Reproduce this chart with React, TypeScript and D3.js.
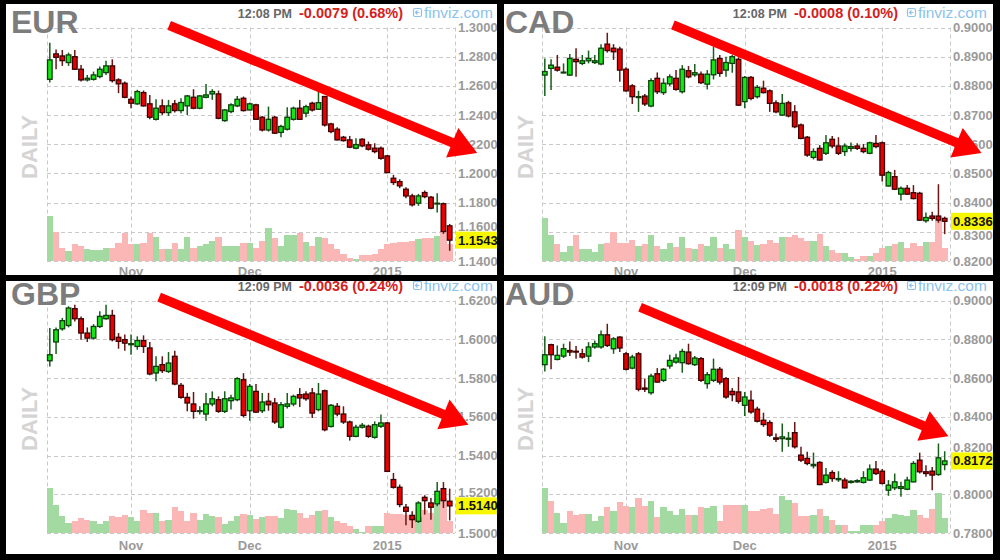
import React from "react";
import * as d3 from "d3";

type OHLC = [number, number, number, number]; // open, high, low, close

const EUR_OHLC: OHLC[] = [
  [1.2645, 1.2896, 1.2623, 1.2778], [1.2819, 1.285, 1.2714, 1.2796], [1.2805, 1.2846, 1.2737, 1.2773],
  [1.276, 1.2828, 1.2737, 1.2812], [1.28, 1.2846, 1.271, 1.2714], [1.2714, 1.2743, 1.263, 1.2641],
  [1.2641, 1.2675, 1.263, 1.2652], [1.2645, 1.2698, 1.2636, 1.2675], [1.2664, 1.2732, 1.2652, 1.2714],
  [1.2691, 1.2773, 1.2675, 1.2737], [1.2737, 1.2782, 1.2623, 1.2636], [1.2641, 1.2652, 1.255, 1.2614],
  [1.2618, 1.263, 1.2515, 1.2522], [1.2508, 1.2527, 1.2447, 1.2481], [1.2477, 1.2573, 1.247, 1.2561],
  [1.2554, 1.2568, 1.2458, 1.2463], [1.2477, 1.2538, 1.2371, 1.2385], [1.2371, 1.2508, 1.2362, 1.2447],
  [1.2463, 1.2508, 1.2401, 1.2417], [1.2417, 1.2504, 1.2394, 1.2463], [1.2477, 1.2504, 1.2417, 1.2431],
  [1.2431, 1.2515, 1.2413, 1.2486], [1.2463, 1.2538, 1.24, 1.2531], [1.2522, 1.2577, 1.244, 1.2447],
  [1.2447, 1.2538, 1.244, 1.2531], [1.2522, 1.2613, 1.2515, 1.2538], [1.2545, 1.2577, 1.2504, 1.2561],
  [1.2545, 1.2568, 1.2371, 1.2378], [1.2362, 1.244, 1.2355, 1.2435], [1.2424, 1.2481, 1.2413, 1.247],
  [1.2463, 1.2531, 1.2454, 1.2508], [1.2515, 1.2527, 1.2424, 1.2431], [1.2435, 1.2486, 1.2431, 1.2477],
  [1.247, 1.2477, 1.2367, 1.2371], [1.2385, 1.2394, 1.2287, 1.2298], [1.2298, 1.2458, 1.2287, 1.2371],
  [1.2385, 1.2394, 1.2271, 1.2276], [1.2281, 1.2333, 1.2248, 1.2322], [1.2303, 1.2453, 1.2294, 1.2385],
  [1.2371, 1.2458, 1.2362, 1.2447], [1.2447, 1.2504, 1.2367, 1.2371], [1.2413, 1.247, 1.2385, 1.2458],
  [1.2481, 1.2492, 1.2424, 1.2435], [1.244, 1.256, 1.2435, 1.2485], [1.2527, 1.2531, 1.2321, 1.2332],
  [1.2339, 1.2348, 1.2276, 1.2287], [1.2303, 1.2316, 1.2225, 1.223], [1.2248, 1.2257, 1.2218, 1.2225],
  [1.223, 1.2257, 1.2173, 1.218], [1.2173, 1.2241, 1.2166, 1.2198], [1.2234, 1.2241, 1.218, 1.2189],
  [1.2196, 1.2218, 1.2157, 1.2166], [1.2173, 1.2207, 1.2138, 1.215], [1.2173, 1.2184, 1.2093, 1.2104],
  [1.212, 1.2127, 1.2001, 1.2006], [1.1967, 1.199, 1.1921, 1.1938], [1.1944, 1.196, 1.1899, 1.1915],
  [1.1892, 1.1905, 1.183, 1.1846], [1.1846, 1.186, 1.1773, 1.1785], [1.1796, 1.186, 1.1778, 1.1846],
  [1.1869, 1.1883, 1.183, 1.1841], [1.1837, 1.1846, 1.1755, 1.1762], [1.1792, 1.1865, 1.1732, 1.1796],
  [1.1792, 1.1801, 1.1586, 1.1602], [1.1641, 1.1654, 1.147, 1.1543],
];
const EUR_VOLUME = [
  135, 87, 40, 30, 50, 45, 35, 32, 32, 40, 40, 55, 85, 50, 50, 55, 85, 72, 35, 35, 55, 35, 72, 40, 45, 52,
  60, 72, 45, 45, 45, 55, 55, 40, 60, 100, 68, 45, 78, 78, 85, 58, 45, 72, 68, 50, 35, 22, 10, 5, 18, 18,
  22, 35, 50, 55, 58, 58, 60, 65, 70, 70, 75, 90, 50,
];

const CAD_OHLC: OHLC[] = [
  [0.8837, 0.8894, 0.8765, 0.8849], [0.886, 0.8891, 0.8786, 0.8871], [0.8864, 0.8906, 0.8849, 0.8854],
  [0.8845, 0.8877, 0.8843, 0.8847], [0.8837, 0.8909, 0.8834, 0.8894], [0.8891, 0.8929, 0.8831, 0.8883],
  [0.8877, 0.8906, 0.8871, 0.8886], [0.8886, 0.8921, 0.8877, 0.8894], [0.888, 0.8906, 0.8875, 0.8886],
  [0.8875, 0.8943, 0.8871, 0.8929], [0.8943, 0.8982, 0.8914, 0.8921], [0.8929, 0.8943, 0.8889, 0.8917],
  [0.8926, 0.8934, 0.8814, 0.8854], [0.8857, 0.8864, 0.878, 0.8783], [0.88, 0.8806, 0.8738, 0.8763],
  [0.876, 0.8783, 0.8711, 0.8763], [0.8765, 0.8772, 0.8731, 0.8738], [0.8731, 0.8826, 0.8727, 0.8818],
  [0.8826, 0.8846, 0.8772, 0.878], [0.8777, 0.8826, 0.8769, 0.8809], [0.8807, 0.884, 0.88, 0.8831],
  [0.8826, 0.8854, 0.8783, 0.8788], [0.878, 0.8871, 0.8774, 0.8857], [0.8852, 0.8868, 0.8826, 0.8831],
  [0.8838, 0.8875, 0.8831, 0.8845], [0.884, 0.8849, 0.8806, 0.8811], [0.8806, 0.8854, 0.8788, 0.884],
  [0.8838, 0.8934, 0.8822, 0.8889], [0.8894, 0.8906, 0.8831, 0.8843], [0.8854, 0.89, 0.8831, 0.888],
  [0.8877, 0.8906, 0.8845, 0.89], [0.8891, 0.8898, 0.8731, 0.8734], [0.8746, 0.8834, 0.8723, 0.8829],
  [0.8829, 0.8834, 0.8751, 0.8757], [0.8763, 0.8803, 0.8757, 0.8795], [0.8792, 0.8818, 0.8774, 0.8777],
  [0.8783, 0.8788, 0.8711, 0.874], [0.8742, 0.8751, 0.8706, 0.8711], [0.87, 0.8772, 0.8697, 0.874],
  [0.8742, 0.8749, 0.8692, 0.8697], [0.8711, 0.8734, 0.8655, 0.866], [0.8666, 0.8671, 0.8617, 0.862],
  [0.8624, 0.8628, 0.8557, 0.8563], [0.8555, 0.8586, 0.8548, 0.8575], [0.8586, 0.8597, 0.8544, 0.8546],
  [0.8569, 0.8632, 0.8563, 0.8605], [0.8617, 0.8628, 0.8586, 0.8594], [0.8594, 0.8624, 0.8563, 0.8569],
  [0.8575, 0.8603, 0.856, 0.8594], [0.8586, 0.8606, 0.8575, 0.8592], [0.8594, 0.8603, 0.858, 0.8586],
  [0.8586, 0.8601, 0.8569, 0.8575], [0.8569, 0.8609, 0.8566, 0.8605], [0.8603, 0.8632, 0.8586, 0.8592],
  [0.8605, 0.8609, 0.8472, 0.8494], [0.8457, 0.8509, 0.8455, 0.8503], [0.8489, 0.8512, 0.8443, 0.8446],
  [0.8429, 0.8455, 0.8407, 0.8449], [0.8449, 0.846, 0.8426, 0.8429], [0.8434, 0.846, 0.8411, 0.8414],
  [0.8432, 0.8437, 0.8338, 0.834], [0.8338, 0.8366, 0.8331, 0.8349], [0.8354, 0.8369, 0.8338, 0.8346],
  [0.8354, 0.8463, 0.8331, 0.834], [0.8346, 0.8352, 0.8292, 0.8336],
];
const CAD_VOLUME = [
  130, 78, 50, 28, 45, 78, 35, 35, 28, 50, 55, 87, 55, 55, 64, 45, 50, 78, 45, 35, 55, 42, 72, 40, 35, 50,
  45, 72, 40, 50, 35, 92, 72, 60, 48, 50, 62, 55, 72, 72, 78, 68, 60, 60, 82, 45, 32, 25, 25, 12, 5, 15,
  15, 25, 40, 45, 50, 58, 40, 55, 45, 58, 58, 120, 40,
];

const GBP_OHLC: OHLC[] = [
  [1.5889, 1.6058, 1.586, 1.592], [1.5986, 1.6061, 1.5924, 1.6049], [1.6054, 1.611, 1.6044, 1.6096],
  [1.6071, 1.617, 1.6061, 1.6161], [1.6158, 1.6178, 1.6092, 1.6106], [1.6106, 1.6118, 1.5998, 1.6032],
  [1.6032, 1.6061, 1.5986, 1.6006], [1.6006, 1.6078, 1.5998, 1.6066], [1.6066, 1.6144, 1.6058, 1.6118],
  [1.6106, 1.6178, 1.6101, 1.6123], [1.6123, 1.6152, 1.5989, 1.5998], [1.601, 1.6032, 1.5951, 1.5989],
  [1.5998, 1.6024, 1.5941, 1.598], [1.5972, 1.6024, 1.592, 1.5977], [1.5963, 1.6015, 1.5946, 1.5993],
  [1.5993, 1.602, 1.5929, 1.5963], [1.5955, 1.5986, 1.5814, 1.5821], [1.5826, 1.5912, 1.5783, 1.586],
  [1.5869, 1.5912, 1.5826, 1.5838], [1.5834, 1.5934, 1.5826, 1.5877], [1.5912, 1.5941, 1.5762, 1.5769],
  [1.5762, 1.5774, 1.5693, 1.57], [1.57, 1.5723, 1.5628, 1.5671], [1.5666, 1.5728, 1.559, 1.5628],
  [1.5628, 1.5654, 1.5611, 1.5631], [1.5614, 1.5723, 1.558, 1.5666], [1.5666, 1.5731, 1.5654, 1.5693],
  [1.5688, 1.5705, 1.562, 1.5628], [1.5628, 1.5731, 1.562, 1.5693], [1.5683, 1.5714, 1.5637, 1.5697],
  [1.5688, 1.5804, 1.568, 1.5797], [1.5791, 1.5825, 1.5597, 1.5607], [1.5631, 1.5769, 1.558, 1.5757],
  [1.5731, 1.5769, 1.5619, 1.5624], [1.5631, 1.5723, 1.5619, 1.5676], [1.568, 1.5723, 1.5631, 1.5662],
  [1.5671, 1.5697, 1.5563, 1.5573], [1.5546, 1.5676, 1.5539, 1.5662], [1.5654, 1.5723, 1.5642, 1.5666],
  [1.5666, 1.5714, 1.5654, 1.5705], [1.5714, 1.5748, 1.565, 1.5697], [1.5717, 1.5731, 1.5683, 1.5693],
  [1.5723, 1.5748, 1.5594, 1.5619], [1.5637, 1.5774, 1.5628, 1.5717], [1.5734, 1.574, 1.5525, 1.5533],
  [1.555, 1.5666, 1.5545, 1.5659], [1.5654, 1.5671, 1.5602, 1.5614], [1.5614, 1.5654, 1.5563, 1.5573],
  [1.5573, 1.558, 1.5477, 1.5499], [1.5499, 1.5559, 1.5494, 1.5546], [1.5546, 1.5568, 1.5539, 1.5556],
  [1.5551, 1.5559, 1.5491, 1.5499], [1.5494, 1.5576, 1.5487, 1.5559], [1.5551, 1.5611, 1.5542, 1.5568],
  [1.5568, 1.5573, 1.5315, 1.5318], [1.5276, 1.531, 1.5229, 1.5236], [1.5236, 1.525, 1.5133, 1.5147],
  [1.5133, 1.515, 1.504, 1.5112], [1.5091, 1.5112, 1.5026, 1.5069], [1.506, 1.5164, 1.5052, 1.5155],
  [1.5184, 1.5195, 1.5095, 1.5167], [1.5155, 1.5181, 1.5069, 1.5133], [1.515, 1.5263, 1.5138, 1.5215],
  [1.5229, 1.5263, 1.5129, 1.5167], [1.5164, 1.5229, 1.5065, 1.514],
];
const GBP_VOLUME = [
  135, 83, 50, 30, 37, 45, 40, 35, 27, 35, 50, 47, 53, 47, 37, 70, 60, 60, 37, 40, 77, 65, 35, 60, 40, 57,
  50, 47, 27, 35, 50, 57, 53, 43, 47, 50, 50, 45, 73, 70, 60, 45, 55, 65, 68, 47, 35, 30, 20, 13, 3, 20,
  20, 20, 60, 57, 57, 53, 53, 47, 70, 60, 85, 105, 37,
];

const AUD_OHLC: OHLC[] = [
  [0.8669, 0.8816, 0.8634, 0.872], [0.8772, 0.8777, 0.8645, 0.872], [0.8696, 0.8768, 0.8691, 0.8717],
  [0.8713, 0.8777, 0.8703, 0.8751], [0.8742, 0.8789, 0.8713, 0.8734], [0.8738, 0.8765, 0.87, 0.8734],
  [0.8725, 0.8751, 0.87, 0.8708], [0.8713, 0.8785, 0.8682, 0.876], [0.876, 0.8794, 0.8751, 0.8777],
  [0.876, 0.8845, 0.8751, 0.8823], [0.8823, 0.888, 0.876, 0.8768], [0.8751, 0.8811, 0.8725, 0.8802],
  [0.8811, 0.8816, 0.8734, 0.8755], [0.8725, 0.8734, 0.8639, 0.8645], [0.8651, 0.872, 0.8645, 0.8708],
  [0.8725, 0.8734, 0.8531, 0.8542], [0.8548, 0.8597, 0.8528, 0.8542], [0.8524, 0.8622, 0.8514, 0.861],
  [0.8622, 0.8651, 0.8576, 0.8579], [0.8588, 0.8651, 0.8579, 0.8645], [0.8662, 0.872, 0.8648, 0.8691],
  [0.8682, 0.8725, 0.8674, 0.8703], [0.8679, 0.8751, 0.8627, 0.8737], [0.8734, 0.8777, 0.8669, 0.8674],
  [0.8669, 0.8713, 0.8662, 0.8703], [0.87, 0.8708, 0.8579, 0.8588], [0.8571, 0.8631, 0.8545, 0.8617],
  [0.8588, 0.87, 0.8579, 0.8645], [0.8645, 0.8657, 0.8566, 0.8579], [0.8597, 0.8605, 0.8493, 0.8502],
  [0.8531, 0.8548, 0.848, 0.8514], [0.8528, 0.8605, 0.8468, 0.848], [0.8459, 0.8528, 0.8404, 0.8502],
  [0.8485, 0.8536, 0.8416, 0.8425], [0.8439, 0.8451, 0.837, 0.8377], [0.8382, 0.8421, 0.8348, 0.836],
  [0.837, 0.8382, 0.8296, 0.8305], [0.8291, 0.8313, 0.827, 0.8284], [0.8287, 0.8365, 0.8219, 0.8296],
  [0.8284, 0.8322, 0.8245, 0.8289], [0.8318, 0.8373, 0.8236, 0.8245], [0.8202, 0.8245, 0.8167, 0.8176],
  [0.8185, 0.8219, 0.815, 0.8159], [0.8147, 0.8215, 0.8133, 0.8154], [0.8164, 0.8171, 0.8047, 0.805],
  [0.8061, 0.8136, 0.8056, 0.8099], [0.8112, 0.8124, 0.8064, 0.8081], [0.8075, 0.8119, 0.8064, 0.8081],
  [0.8073, 0.8085, 0.803, 0.8033], [0.8061, 0.8072, 0.8055, 0.8067], [0.8064, 0.8077, 0.8059, 0.807],
  [0.8061, 0.8119, 0.8056, 0.8085], [0.8073, 0.8154, 0.8068, 0.813], [0.813, 0.8171, 0.8099, 0.8107],
  [0.8119, 0.813, 0.805, 0.8056], [0.8021, 0.8073, 0.7992, 0.8047], [0.8033, 0.8107, 0.8021, 0.8064],
  [0.803, 0.8064, 0.7987, 0.8039], [0.8026, 0.809, 0.8021, 0.8073], [0.8064, 0.8171, 0.8061, 0.8159],
  [0.8176, 0.8215, 0.8107, 0.8116], [0.8116, 0.815, 0.809, 0.8107], [0.8119, 0.8141, 0.8021, 0.8099],
  [0.8102, 0.8262, 0.8095, 0.8188], [0.8153, 0.8222, 0.8124, 0.8172],
];
const AUD_VOLUME = [
  135, 97, 60, 30, 65, 55, 57, 57, 35, 50, 77, 67, 93, 80, 77, 105, 80, 97, 47, 77, 65, 53, 73, 55, 55, 77,
  75, 82, 35, 85, 85, 85, 85, 65, 67, 72, 75, 57, 110, 100, 90, 50, 50, 53, 73, 50, 40, 23, 25, 7, 7, 23,
  25, 23, 37, 45, 57, 53, 50, 70, 55, 45, 73, 120, 45,
];

const EUR_TICKS = [1.14, 1.16, 1.18, 1.2, 1.22, 1.24, 1.26, 1.28, 1.3];
const CAD_TICKS = [0.82, 0.83, 0.84, 0.85, 0.86, 0.87, 0.88, 0.89, 0.9];
const GBP_TICKS = [1.5, 1.52, 1.54, 1.56, 1.58, 1.6, 1.62];
const AUD_TICKS = [0.78, 0.8, 0.82, 0.84, 0.86, 0.88, 0.9];

const MONTH_LABELS = ["Nov", "Dec", "2015"];
const MONTH_INDEX = [13, 32, 54];

// trend arrows: [start index, start price, tip index, tip price]
const EUR_ARROW = [19.1, 1.3015, 68.4, 1.214];
const CAD_ARROW = [20.5, 0.9009, 69.9, 0.857];
const GBP_ARROW = [17.5, 1.6217, 67.0, 1.5559];
const AUD_ARROW = [15.25, 0.8965, 64.6, 0.8299];

const TICKERS = ["EUR", "CAD", "GBP", "AUD"];
const TIMES = ["12:08 PM", "12:08 PM", "12:09 PM", "12:09 PM"];
const CHANGES = ["-0.0079 (0.68%)", "-0.0008 (0.10%)", "-0.0036 (0.24%)", "-0.0018 (0.22%)"];

const VOL_MAX = 135;
const FONT = "'Liberation Sans', Arial, Helvetica, sans-serif";

const COLS = [
  { left: 6, right: 497, plotLeft: 47, plotRight: 455, tickerX: 11, timeEnd: 292, changeEnd: 403, finvizX: 413, dailyX: 37 },
  { left: 504, right: 993, plotLeft: 542, plotRight: 950, tickerX: 505, timeEnd: 787, changeEnd: 898, finvizX: 907, dailyX: 533 },
];
const ROWS = [
  { top: 4, bottom: 275, plotTop: 27.5, plotBottom: 261, headerY: 18, tickerY: 33, monthY: 275.5, dailyY: 147 },
  { top: 281, bottom: 554, plotTop: 300.5, plotBottom: 533, headerY: 291, tickerY: 304.5, monthY: 549.5, dailyY: 419 },
];

const PANELS = [
  { data: EUR_OHLC, vol: EUR_VOLUME, ticks: EUR_TICKS, arrow: EUR_ARROW, col: 0, row: 0 },
  { data: CAD_OHLC, vol: CAD_VOLUME, ticks: CAD_TICKS, arrow: CAD_ARROW, col: 1, row: 0 },
  { data: GBP_OHLC, vol: GBP_VOLUME, ticks: GBP_TICKS, arrow: GBP_ARROW, col: 0, row: 1 },
  { data: AUD_OHLC, vol: AUD_VOLUME, ticks: AUD_TICKS, arrow: AUD_ARROW, col: 1, row: 1 },
];

function Panel({ idx }: { idx: number }) {
  const p = PANELS[idx];
  const c = COLS[p.col];
  const r = ROWS[p.row];
  const n = p.data.length;
  const x = d3.scaleLinear().domain([-0.45, n - 0.15]).range([c.plotLeft, c.plotRight]);
  const [lo, hi] = d3.extent(p.ticks) as [number, number];
  const y = d3.scaleLinear().domain([lo, hi]).range([r.plotBottom, r.plotTop]);
  const v = d3.scaleLinear().domain([0, VOL_MAX]).range([0, 45]);
  const step = x(1) - x(0);
  const bodyW = 4.6;
  const last = p.data[n - 1][3];
  const fmt = d3.format(".4f");
  const clipId = `clip-${idx}`;
  const boxTop = y(last) - 8.5;
  const boxBottom = y(last) + 8.5;

  // arrow geometry
  const [ai0, ap0, ai1, ap1] = p.arrow;
  const ax0 = x(ai0), ay0 = y(ap0), ax1 = x(ai1), ay1 = y(ap1);
  const len = Math.hypot(ax1 - ax0, ay1 - ay0);
  const ux = (ax1 - ax0) / len, uy = (ay1 - ay0) / len;
  const nx = -uy, ny = ux;
  const headLen = 27, headHalf = 16, shaftHalf = 4.7;
  const bx = ax1 - ux * headLen, by = ay1 - uy * headLen;
  const pts = [
    [ax0 + nx * shaftHalf, ay0 + ny * shaftHalf],
    [bx + nx * shaftHalf, by + ny * shaftHalf],
    [bx + nx * headHalf, by + ny * headHalf],
    [ax1, ay1],
    [bx - nx * headHalf, by - ny * headHalf],
    [bx - nx * shaftHalf, by - ny * shaftHalf],
    [ax0 - nx * shaftHalf, ay0 - ny * shaftHalf],
  ];

  const gridStroke = "#c9c9c9";
  const dash = "4,3";

  // tick labels that the price box would fully cover get nudged so they peek out as in the reference
  const labelY = (t: number) => {
    const ty = y(t) + 4.5;
    if (ty - 10 < boxBottom && ty > boxTop) {
      return ty < y(last) ? Math.min(ty, boxTop - 0.5) : Math.max(ty, boxBottom + 10);
    }
    return ty;
  };

  return (
    <g>
      <defs>
        <clipPath id={clipId}>
          <rect x={c.left} y={r.top} width={c.right - c.left} height={r.bottom - r.top} />
        </clipPath>
      </defs>
      <g clipPath={`url(#${clipId})`}>
        <rect x={c.left} y={r.top} width={c.right - c.left} height={r.bottom - r.top} fill="#fff" />
        {/* horizontal grid */}
        {p.ticks.map((t) => (
          <line key={"h" + t} x1={c.plotLeft} x2={c.plotRight} y1={Math.round(y(t)) + 0.5} y2={Math.round(y(t)) + 0.5}
            stroke={gridStroke} strokeDasharray={dash} />
        ))}
        {/* vertical grid */}
        {[c.plotLeft, ...MONTH_INDEX.map((m) => x(m)), c.plotRight].map((gx, k) => (
          <line key={"v" + k} x1={Math.round(gx) + 0.5} x2={Math.round(gx) + 0.5} y1={r.plotTop} y2={r.plotBottom}
            stroke={gridStroke} strokeDasharray={dash} />
        ))}
        {/* volume */}
        {p.vol.map((vv, i) => {
          const up = p.data[i][3] >= p.data[i][0];
          const x0 = Math.round(x(i) - step / 2);
          const x1 = Math.round(x(i) + step / 2);
          return (
            <rect key={"vol" + i} x={x0} width={x1 - x0} y={r.plotBottom - v(vv)} height={v(vv)}
              fill={up ? "#a2daa2" : "#fbb6b6"} shapeRendering="crispEdges" />
          );
        })}
        {/* candles */}
        {p.data.map(([o, h, l, cl], i) => {
          const up = cl >= o;
          const cx = x(i);
          const top = y(Math.max(o, cl));
          const bot = y(Math.min(o, cl));
          return (
            <g key={"c" + i}>
              <line x1={cx} x2={cx} y1={y(h)} y2={y(l)} stroke={up ? "#16601a" : "#6a1414"} strokeWidth={1.5} />
              <rect x={cx - bodyW / 2} y={top} width={bodyW} height={Math.max(0.8, bot - top)}
                fill={up ? "#14e614" : "#e80000"} stroke={up ? "#0b3f0b" : "#3c0000"} strokeWidth={1.3} />
            </g>
          );
        })}
        {/* y labels */}
        {p.ticks.map((t) => (
          <text key={"yl" + t} x={c.plotRight + 3} y={labelY(t)} fontFamily={FONT} fontSize={13}
            fontWeight="bold" fill="#9a9a9a">{fmt(t)}</text>
        ))}
        {/* month labels */}
        {MONTH_LABELS.map((m, k) => (
          <text key={"m" + m} x={x(MONTH_INDEX[k])} y={r.monthY} textAnchor="middle" fontFamily={FONT}
            fontSize={13} fontWeight="bold" fill="#9a9a9a">{m}</text>
        ))}
        {/* last price box */}
        <rect x={c.plotRight + 1} y={boxTop} width={44} height={17} fill="#f7f700" />
        <text x={c.plotRight + 3} y={y(last) + 4.5} fontFamily={FONT} fontSize={13} fontWeight="bold" fill="#111">
          {fmt(last)}
        </text>
        {/* header */}
        <text x={c.timeEnd} y={r.headerY} textAnchor="end" fontFamily={FONT} fontSize={12.5} fontWeight="bold"
          fill="#666">{TIMES[idx]}</text>
        <text x={c.changeEnd} y={r.headerY} textAnchor="end" fontFamily={FONT} fontSize={14.5} fontWeight="bold"
          fill="#d42020">{CHANGES[idx]}</text>
        <g stroke="#8cc2ec" fill="none" strokeWidth={1.2}>
          <rect x={c.finvizX + 0.5} y={r.headerY - 9.5} width={8} height={8} rx={1.5} />
          <path d={`M${c.finvizX + 2.5},${r.headerY - 5.5} h4 M${c.finvizX + 4.5},${r.headerY - 7.5} l-2,2 l2,2`} />
        </g>
        <text x={c.finvizX + 11} y={r.headerY} fontFamily={FONT} fontSize={15.5} fill="#8cc2ec">finviz.com</text>
        {/* ticker */}
        <text x={c.tickerX} y={r.tickerY} fontFamily={FONT} fontSize={32} fontWeight="bold" fill="#7c7c7c">
          {TICKERS[idx]}
        </text>
        {/* DAILY */}
        <text transform={`translate(${c.dailyX},${r.dailyY}) rotate(-90)`} textAnchor="middle" fontFamily={FONT}
          fontSize={22} fontWeight="bold" fill="#d4d4d4">DAILY</text>
        {/* trend arrow */}
        <polygon points={pts.map((q) => q.join(",")).join(" ")} fill="#ff0000" />
      </g>
    </g>
  );
}

export default function App() {
  return (
    <div style={{ position: "fixed", left: 0, top: 0, width: 1000, height: 560 }}>
      <svg width={1000} height={560} viewBox="0 0 1000 560" style={{ display: "block" }}>
        <rect x={0} y={0} width={1000} height={560} fill="#000" />
        {PANELS.map((_, i) => (
          <Panel key={i} idx={i} />
        ))}
      </svg>
    </div>
  );
}
